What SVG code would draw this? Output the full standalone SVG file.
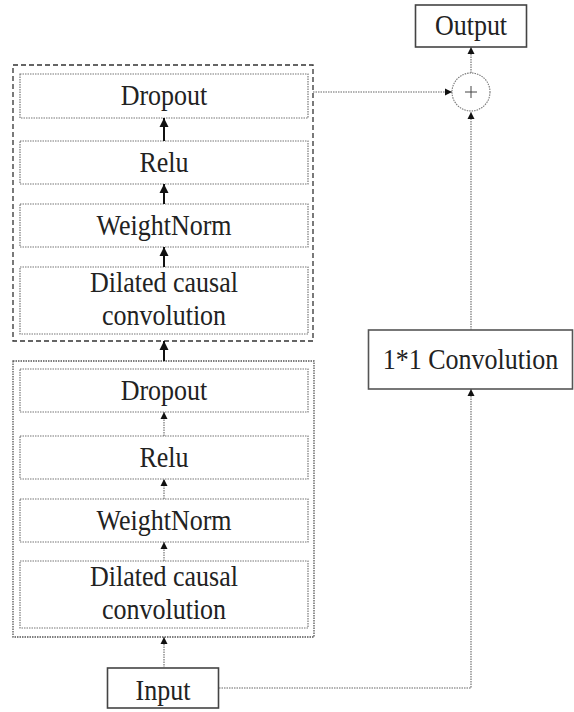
<svg xmlns="http://www.w3.org/2000/svg" width="574" height="712" viewBox="0 0 574 712">
<style>
  text { font-family: 'Liberation Serif', serif; font-size: 26px; text-anchor: middle; fill: #222; }
  .inner { fill: none; stroke: #777; stroke-width: 1.2; stroke-dasharray: 1.5 1; }
  .outerDash { fill: none; stroke: #333; stroke-width: 1.3; stroke-dasharray: 5 3; }
  .outerDot { fill: none; stroke: #555; stroke-width: 1.3; stroke-dasharray: 1.5 1; }
  .solid { fill: #fff; stroke: #444; stroke-width: 1.6; }
  .thick { stroke: #111; stroke-width: 2; fill: none; }
  .thin { stroke: #666; stroke-width: 1.1; stroke-dasharray: 1.5 1; fill: none; }
</style>
<defs>
  <marker id="hBig" viewBox="0 0 10 10" refX="10" refY="5" markerUnits="userSpaceOnUse" markerWidth="9" markerHeight="14" orient="auto">
    <path d="M0,0 L10,5 L0,10 z" fill="#111"/>
  </marker>
  <marker id="hSmall" viewBox="0 0 10 10" refX="10" refY="5" markerUnits="userSpaceOnUse" markerWidth="7" markerHeight="12" orient="auto">
    <path d="M0,0 L10,5 L0,10 z" fill="#111"/>
  </marker>
</defs>

<g id="block1">
  <rect class="outerDash" x="13" y="65" width="300" height="276"/>
</g>
<g id="b1-dropout">
  <rect class="inner" x="20" y="74" width="288" height="44"/>
  <text font-family="Liberation Serif, serif" transform="translate(164,105) scale(1,1.12)">Dropout</text>
</g>
<g id="b1-relu">
  <rect class="inner" x="20" y="141" width="288" height="43"/>
  <text font-family="Liberation Serif, serif" transform="translate(164,172) scale(1,1.12)">Relu</text>
</g>
<g id="b1-weightnorm">
  <rect class="inner" x="20" y="204" width="288" height="43"/>
  <text font-family="Liberation Serif, serif" transform="translate(164,235) scale(1,1.12)">WeightNorm</text>
</g>
<g id="b1-dilated">
  <rect class="inner" x="20" y="267" width="288" height="67"/>
  <text font-family="Liberation Serif, serif" transform="translate(164,292) scale(1,1.12)">Dilated causal</text>
  <text font-family="Liberation Serif, serif" transform="translate(164,325) scale(1,1.12)">convolution</text>
</g>

<g id="block2">
  <rect class="outerDot" x="13" y="361" width="301" height="276"/>
</g>
<g id="b2-dropout">
  <rect class="inner" x="20" y="369" width="288" height="43"/>
  <text font-family="Liberation Serif, serif" transform="translate(164,400) scale(1,1.12)">Dropout</text>
</g>
<g id="b2-relu">
  <rect class="inner" x="20" y="436" width="288" height="43"/>
  <text font-family="Liberation Serif, serif" transform="translate(164,467) scale(1,1.12)">Relu</text>
</g>
<g id="b2-weightnorm">
  <rect class="inner" x="20" y="499" width="288" height="43"/>
  <text font-family="Liberation Serif, serif" transform="translate(164,530) scale(1,1.12)">WeightNorm</text>
</g>
<g id="b2-dilated">
  <rect class="inner" x="20" y="561" width="288" height="67"/>
  <text font-family="Liberation Serif, serif" transform="translate(164,586) scale(1,1.12)">Dilated causal</text>
  <text font-family="Liberation Serif, serif" transform="translate(164,619) scale(1,1.12)">convolution</text>
</g>

<g id="input">
  <rect class="solid" x="107.5" y="668" width="111" height="40"/>
  <text font-family="Liberation Serif, serif" transform="translate(163,700) scale(1,1.12)">Input</text>
</g>
<g id="conv11">
  <rect class="solid" x="368.5" y="330" width="204" height="59" style="stroke:#555"/>
  <text font-family="Liberation Serif, serif" transform="translate(470.5,369) scale(1,1.12)">1*1 Convolution</text>
</g>
<g id="add">
  <circle cx="471" cy="92" r="19" fill="#fff" stroke="#777" stroke-width="1.1" stroke-dasharray="1.5 1"/>
  <path d="M465,92 H477 M471,86 V98" stroke="#444" stroke-width="1"/>
</g>
<g id="output">
  <rect class="solid" x="415.5" y="5" width="111" height="42"/>
  <text font-family="Liberation Serif, serif" transform="translate(471,35) scale(1,1.12)">Output</text>
</g>

<g id="connectors">
  <line class="thick" x1="164" y1="141" x2="164" y2="118" marker-end="url(#hBig)"/>
  <line class="thick" x1="164" y1="204" x2="164" y2="184" marker-end="url(#hBig)"/>
  <line class="thick" x1="164" y1="267" x2="164" y2="247" marker-end="url(#hBig)"/>
  <line class="thick" x1="164" y1="361" x2="164" y2="341" marker-end="url(#hBig)"/>
  <line class="thin" x1="164" y1="436" x2="164" y2="412" marker-end="url(#hSmall)"/>
  <line class="thin" x1="164" y1="499" x2="164" y2="479" marker-end="url(#hSmall)"/>
  <line class="thin" x1="164" y1="561" x2="164" y2="542" marker-end="url(#hSmall)"/>
  <line class="thin" x1="164" y1="668" x2="164" y2="637" marker-end="url(#hSmall)"/>
  <polyline class="thin" points="219,688 471,688 471,389" marker-end="url(#hSmall)"/>
  <line class="thin" x1="471" y1="330" x2="471" y2="112" marker-end="url(#hSmall)"/>
  <line class="thin" x1="471" y1="73" x2="471" y2="47" marker-end="url(#hSmall)"/>
  <line class="thin" x1="313" y1="92" x2="452" y2="92" marker-end="url(#hSmall)"/>
</g>
</svg>
